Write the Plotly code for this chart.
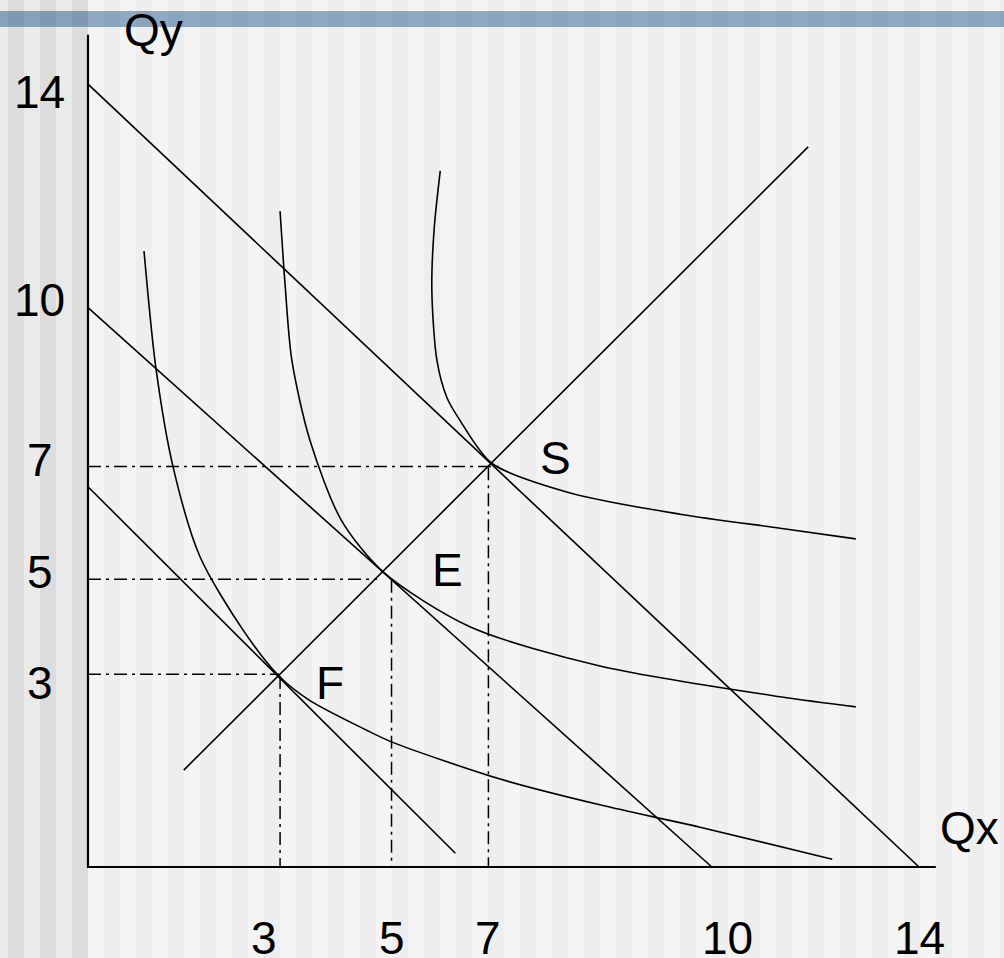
import plotly.graph_objects as go

# Budget lines (low, middle, high): start on the Qy axis, end near/at the Qx axis
budget_y0 = [6.79, 9.99, 13.98]
budget_x1 = [6.56, 11.14, 14.84]
budget_y1 = [0.245, 0.0, 0.0]

# Expansion path (45 degree ray)
ray_x = [1.71, 12.86]
ray_y = [1.73, 12.86]

# Indifference curves (through F, E, S)
ic1_x = [1.00, 1.21, 1.52, 2.00, 2.77, 3.41, 3.95, 4.96, 5.43, 7.36, 9.14, 10.93, 13.29]
ic1_y = [11.00, 8.93, 7.14, 5.54, 4.23, 3.41, 2.98, 2.45, 2.23, 1.57, 1.11, 0.71, 0.14]
ic2_x = [3.43, 3.52, 3.64, 3.96, 4.52, 5.27, 6.82, 9.14, 12.36, 13.71]
ic2_y = [11.71, 10.39, 9.05, 7.63, 6.20, 5.27, 4.29, 3.59, 3.04, 2.86]
ic3_x = [6.29, 6.18, 6.14, 6.23, 6.41, 6.64, 7.21, 8.61, 10.57, 12.36, 13.71]
ic3_y = [12.43, 11.38, 10.30, 9.05, 8.38, 7.98, 7.21, 6.68, 6.30, 6.05, 5.86]

# Equilibrium points and their dashed guide lines
eq_labels = ["F", "E", "S"]
guide_h_y = [3.44, 5.14, 7.15]
guide_h_end = [3.41, 5.16, 7.41]
guide_v_x = [3.43, 5.42, 7.15]
guide_v_top = [3.41, 5.13, 7.14]

# Axis extents and tick labels
axis_x_end = 15.14
axis_y_end = 14.86
xtick_text = ["3", "5", "7", "10", "14"]
ytick_text = ["14", "10", "7", "5", "3"]

W, H = 1004, 958
X0, Y0, K = 88, 867, 56  # pixel origin and pixels per unit


def px(v):
    return (v - X0) / K


def py(v):
    return (Y0 - v) / K


FONT = dict(family="Liberation Sans, Arial, sans-serif", size=46, color="black")
SOLID = dict(color="black", width=1.6)
DASH = dict(color="black", width=1.5, dash="13px,5px,3px,5px")

fig = go.Figure()

# axes drawn as lines
fig.add_trace(go.Scatter(x=[0, 0, axis_x_end], y=[axis_y_end, 0, 0], mode="lines",
                         line=dict(color="black", width=2.2)))

# dashed guides
for i in range(3):
    fig.add_trace(go.Scatter(x=[0, guide_h_end[i]], y=[guide_h_y[i], guide_h_y[i]],
                             mode="lines", line=DASH))
    fig.add_trace(go.Scatter(x=[guide_v_x[i], guide_v_x[i]], y=[guide_v_top[i], 0],
                             mode="lines", line=DASH))

# budget lines
for i in range(3):
    fig.add_trace(go.Scatter(x=[0, budget_x1[i]], y=[budget_y0[i], budget_y1[i]],
                             mode="lines", line=SOLID))

# ray
fig.add_trace(go.Scatter(x=ray_x, y=ray_y, mode="lines", line=SOLID))

# indifference curves
for cx, cy in [(ic1_x, ic1_y), (ic2_x, ic2_y), (ic3_x, ic3_y)]:
    fig.add_trace(go.Scatter(x=cx, y=cy, mode="lines", line=dict(SOLID, shape="spline", smoothing=0.8)))

fig.update_traces(hoverinfo="skip", showlegend=False)

# text labels
xtick_pos = [px(264), px(392), px(488), px(727), px(919)]
ytick_pos = [py(91.7), py(300), py(460), py(572), py(683)]
for t, x in zip(xtick_text, xtick_pos):
    # compact box so the label sits near the bottom edge like the slide
    fig.add_annotation(x=x, y=py(938), text=t, height=40, valign="middle")
for t, y in zip(ytick_text, ytick_pos):
    fig.add_annotation(x=px(39.5), y=y, text=t)
eq_pos = [(px(330), py(683)), (px(447), py(570)), (px(555), py(458))]
for t, (x, y) in zip(eq_labels, eq_pos):
    fig.add_annotation(x=x, y=y, text=t)
fig.add_annotation(x=px(153.5), y=py(30), text="Qy")
fig.add_annotation(x=px(969), y=py(828), text="Qx")
fig.update_annotations(showarrow=False, font=FONT, xanchor="center", yanchor="middle")

# striped slide background with the blue band on top
TINT = (0.586, 0.689, 0.80)
shapes = []


def stripe(x0, x1, base):
    shapes.append(dict(type="rect", xref="paper", yref="paper", x0=x0 / W, x1=x1 / W,
                       y0=0, y1=1, fillcolor="rgb(%d,%d,%d)" % (base, base, base),
                       line_width=0, layer="below"))
    c = tuple(round(base * t) for t in TINT)
    shapes.append(dict(type="rect", xref="paper", yref="paper", x0=x0 / W, x1=x1 / W,
                       y0=(H - 27) / H, y1=(H - 11) / H, fillcolor="rgb(%d,%d,%d)" % c,
                       line_width=0, layer="below"))


s = -8
while s < 88:
    stripe(max(s, 0), min(s + 16, 88), 234)
    stripe(min(s + 16, 88), min(s + 32, 88), 220)
    s += 32
s = 88
while s < W:
    stripe(s, min(s + 16, W), 244)
    stripe(min(s + 16, W), min(s + 32, W), 238)
    s += 32

fig.update_layout(
    width=W, height=H,
    margin=dict(l=0, r=0, t=0, b=0),
    paper_bgcolor="#F4F4F4", plot_bgcolor="#F4F4F4",
    shapes=shapes,
    xaxis=dict(range=[px(0), px(W)], visible=False, fixedrange=True),
    yaxis=dict(range=[py(H), py(0)], visible=False, fixedrange=True),
)

fig.write_html("out.html", config={"displayModeBar": False},
               post_script="document.body.style.margin='0';")
